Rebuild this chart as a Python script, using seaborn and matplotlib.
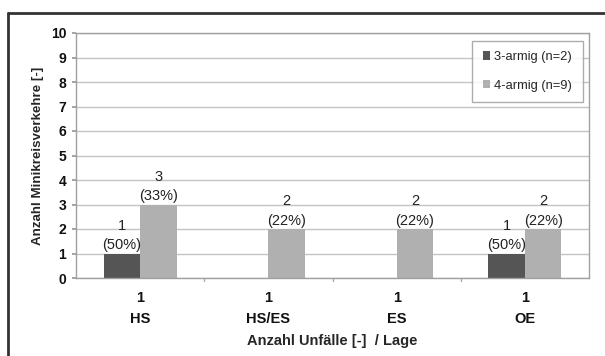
import matplotlib
matplotlib.use("Agg")
import matplotlib.pyplot as plt
from matplotlib.patches import Patch
from matplotlib.lines import Line2D
import seaborn as sns
import pandas as pd

# Data
lage = ["HS", "HS/ES", "ES", "OE"]
unfaelle = [1, 1, 1, 1]
series = ["3-armig (n=2)", "4-armig (n=9)"]
n_total = [2, 9]
werte_3armig = [1, 0, 0, 1]
werte_4armig = [3, 2, 2, 2]
y_ticks = list(range(0, 11))

colors = ["#555555", "#b0b0b0"]

sns.set_theme(style="white")
plt.rcParams["font.family"] = ["Liberation Sans", "DejaVu Sans"]

df = pd.DataFrame({
    "Lage": lage * 2,
    "Serie": [series[0]] * 4 + [series[1]] * 4,
    "Anzahl": werte_3armig + werte_4armig,
})

fig = plt.figure(figsize=(6.05, 3.56), dpi=100)
ax = fig.add_axes([76 / 605, 1 - 278 / 356, (589 - 76) / 605, (278 - 33) / 356])

sns.barplot(data=df, x="Lage", y="Anzahl", hue="Serie", hue_order=series,
            palette=colors, width=0.57, saturation=1, ax=ax,
            edgecolor="none", linewidth=0, legend=False)

ax.set_ylim(0, 10)
ax.set_xlim(-0.5, 3.5)
ax.set_yticks(y_ticks)
ax.set_yticklabels([str(t) for t in y_ticks], fontsize=10, fontweight="bold", color="#111111")
ax.yaxis.grid(True, color="#c4c4c4", linewidth=1)
ax.set_axisbelow(True)

# category labels with accident count
ax.set_xticks(range(len(lage)))
ax.set_xticklabels([f"{u}\n{l}" for u, l in zip(unfaelle, lage)],
                   fontsize=10.5, fontweight="bold", color="#111111", linespacing=1.6)
ax.tick_params(axis="x", length=0, pad=9.5)
ax.tick_params(axis="y", length=3, color="#999999", left=True, pad=4)
# boundary ticks between categories
for b in [0.5, 1.5, 2.5]:
    ax.plot([b, b], [0, -0.12], color="#aaaaaa", lw=1, clip_on=False)

for s in ["left", "bottom", "right", "top"]:
    ax.spines[s].set_color("#a0a0a0")
    ax.spines[s].set_linewidth(1)

ax.set_xlabel("Anzahl Unfälle [-]  / Lage", fontsize=10.5, fontweight="bold", labelpad=6)
ax.set_ylabel("Anzahl Minikreisverkehre [-]", fontsize=9.6, fontweight="bold", labelpad=5)

# value labels: count and share within each series
for cont, n in zip(ax.containers, n_total):
    for bar in cont:
        h = bar.get_height()
        if h <= 0:
            continue
        ax.annotate(f"{int(h)}\n({round(100 * h / n)}%)",
                    (bar.get_x() + bar.get_width() / 2, h),
                    xytext=(0, 1), textcoords="offset points",
                    ha="center", va="bottom", fontsize=10.5, color="#222222",
                    linespacing=1.5)

handles = [Patch(facecolor=c, edgecolor="none") for c in colors]
leg = ax.legend(handles, series, loc="upper right", bbox_to_anchor=(1.0, 0.995),
                fontsize=9.3, frameon=True, fancybox=False, edgecolor="#999999",
                handlelength=0.6, handleheight=0.6, handletextpad=0.3,
                labelspacing=1.3, borderpad=0.8)
leg.get_frame().set_linewidth(1)

# outer frame (left and top edges)
fx = 7.5 / 605
fy = 1 - 12.5 / 356
fig.add_artist(Line2D([fx, fx], [0, fy], transform=fig.transFigure, color="#333333", lw=2))
fig.add_artist(Line2D([fx, 1], [fy, fy], transform=fig.transFigure, color="#333333", lw=2))

fig.savefig("out.png", dpi=100, facecolor="white")
